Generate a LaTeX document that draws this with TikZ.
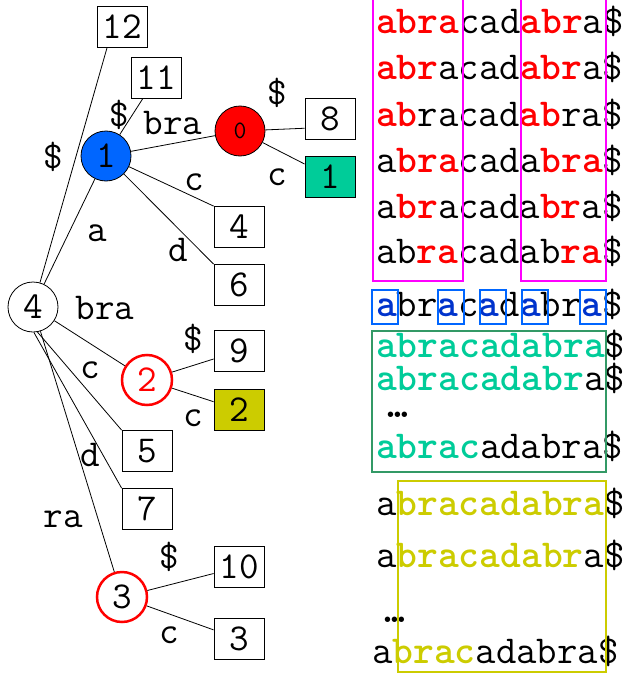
\documentclass[tikz,border=0pt]{standalone}
\definecolor{nodeblue}{HTML}{0066FF}
\definecolor{leafgreen}{HTML}{00CC99}
\definecolor{leafyellow}{HTML}{CCCC00}
\definecolor{boxgreen}{HTML}{339966}
\definecolor{boxmagenta}{HTML}{FF00FF}
\definecolor{letterblue}{HTML}{0033CC}
\newcommand\treefont{\ttfamily\fontsize{38}{38}\selectfont}
\newcommand\rowfont{\ttfamily\fontsize{39.6}{40}\selectfont}
\newcommand\redpart[1]{\textcolor{red}{\textbf{#1}}}
\newcommand\bluepart[1]{\textcolor{letterblue}{\textbf{#1}}}
\newcommand\greenpart[1]{\textcolor{leafgreen}{\textbf{#1}}}
\newcommand\yellowpart[1]{\textcolor{leafyellow}{\textbf{#1}}}
\tikzset{
  inner/.style={circle,draw,line width=0.8pt,minimum size=50pt,inner sep=0pt,font=\treefont},
  marked/.style={inner,draw=red,line width=2.5pt},
  leaf/.style={draw,line width=0.8pt,minimum width=50pt,minimum height=41pt,inner sep=0pt,font=\treefont},
  lab/.style={inner sep=0pt,font=\treefont},
  row/.style={anchor=base west,inner sep=0pt,font=\rowfont},
  edge/.style={line width=0.8pt},
}
\begin{document}
\begin{tikzpicture}[x=1pt,y=-1pt]
\useasboundingbox (0,0) rectangle (627,677);
% inner nodes of the tree
\node[inner] (n4) at (33,307) {4};
\node[inner,fill=nodeblue] (n1) at (106,156) {1};
\node[inner,fill=red,font=\ttfamily\fontsize{25}{25}\selectfont] (n0) at (240,131) {0};
\node[marked,text=red] (n2) at (147,380) {2};
\node[marked] (n3) at (122,597) {3};
% leaves
\node[leaf] (b12) at (122,27) {12};
\node[leaf] (b11) at (156,78) {11};
\node[leaf] (b8) at (330,119) {8};
\node[leaf,fill=leafgreen] (b1) at (330,177) {1};
\node[leaf] (b4) at (239,227) {4};
\node[leaf] (b6) at (239,285) {6};
\node[leaf] (b9) at (239,351) {9};
\node[leaf,fill=leafyellow] (b2) at (239,410) {2};
\node[leaf] (b5) at (147,451) {5};
\node[leaf] (b7) at (147,509) {7};
\node[leaf] (b10) at (239,567) {10};
\node[leaf] (b3) at (239,639) {3};
% edges
\draw[edge] (n4) -- ([xshift=-15]b12.south);
\draw[edge] (n4) -- (n1);
\draw[edge] (n1) -- (b11);
\draw[edge] (n1) -- (n0);
\draw[edge] (n0) -- (b8.200);
\draw[edge] (n0) -- (b1);
\draw[edge] (n1) -- (b4.north west);
\draw[edge] (n1) -- (b6.north west);
\draw[edge] (n4) -- (n2);
\draw[edge] (n2) -- (b9);
\draw[edge] (n2) -- (b2);
\draw[edge] (n4.-80) -- (b5.north west);
\draw[edge] (n4.-88) -- (b7.north west);
\draw[edge] (n4) -- (n3);
\draw[edge] (n3) -- (b10);
\draw[edge] (n3) -- (b3);
% edge labels
\node[lab] (l12) at (53,157) {\$};
\node[lab] (la) at (97,233) {a};
\node[lab] (l11) at (119,115) {\$};
\node[lab] (lbra1) at (173,123) {bra};
\node[lab] (l8) at (277,93) {\$};
\node[lab] (lc1) at (277,177) {c};
\node[lab] (lc4) at (194,182) {c};
\node[lab] (ld6) at (178,250) {d};
\node[lab] (lbra2) at (105,308) {bra};
\node[lab] (l9) at (193,339) {\$};
\node[lab] (lc2) at (193,418) {c};
\node[lab] (lc5) at (90,370) {c};
\node[lab] (ld7) at (90,455) {d};
\node[lab] (lra) at (63,519) {ra};
\node[lab] (l10) at (169,557) {\$};
\node[lab] (lc3) at (169,635) {c};
% rows with abra
\node[row] (r1) at (376,34) {\redpart{abra}cad\redpart{abr}a\$};
\node[row] (r2) at (376,80) {\redpart{abr}acad\redpart{abr}a\$};
\node[row] (r3) at (376,126) {\redpart{ab}racad\redpart{ab}ra\$};
\node[row] (r4) at (376,172) {a\redpart{bra}cada\redpart{bra}\$};
\node[row] (r5) at (376,218) {a\redpart{br}acada\redpart{br}a\$};
\node[row] (r6) at (376,263) {ab\redpart{ra}cadab\redpart{ra}\$};
\draw[boxmagenta,line width=2.5pt] (373,-1) rectangle (463,281) (521,-1) rectangle (606,281);
% rows with a
\node[row] (r7) at (376,316) {\bluepart{a}br\bluepart{a}c\bluepart{a}d\bluepart{a}br\bluepart{a}\$};
\foreach \x in {372,438,480,522,580}
  \draw[nodeblue,line width=2pt] (\x,290) rectangle +(26,34);
% rows with abrac
\node[row] (r8) at (376,357) {\greenpart{abracadabra}\$};
\node[row] (r9) at (376,390) {\greenpart{abracadabr}a\$};
\node[row] (r10) at (387,417) {\textbf{…}};
\node[row] (r11) at (376,458) {\greenpart{abrac}adabra\$};
\draw[boxgreen,line width=2.5pt] (372,331) rectangle (606,472);
% rows with brac
\node[row] (r12) at (376,515) {a\yellowpart{bracadabra}\$};
\node[row] (r13) at (376,567) {a\yellowpart{bracadabr}a\$};
\node[row] (r14) at (384,622) {\textbf{…}};
\node[row] (r15) at (372,663) {a\yellowpart{brac}adabra\$};
\draw[leafyellow,line width=2.5pt] (398,481) rectangle (606,672);
\end{tikzpicture}
\end{document}
